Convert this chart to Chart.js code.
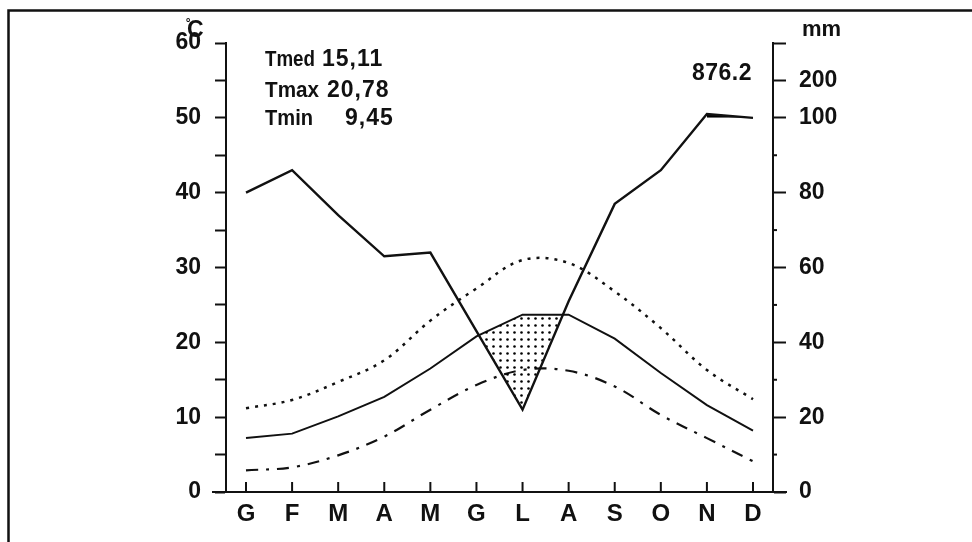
<!DOCTYPE html>
<html>
<head>
<meta charset="utf-8">
<script src="https://cdn.jsdelivr.net/npm/chart.js@4/dist/chart.umd.min.js"></script>
<style>
  html, body { margin: 0; padding: 0; background: #fff; }
  canvas { display: block; }
</style>
</head>
<body>
<canvas id="climate" width="972" height="542"></canvas>
<script>
const months = ["G", "F", "M", "A", "M", "G", "L", "A", "S", "O", "N", "D"];
const tmed = [7.2, 7.8, 10.1, 12.7, 16.5, 20.8, 23.7, 23.7, 20.5, 15.9, 11.6, 8.2];
const tmax = [11.2, 12.3, 14.7, 17.6, 22.9, 27.2, 31.0, 30.6, 26.8, 21.9, 16.3, 12.4];
const tmin = [2.9, 3.3, 4.9, 7.4, 11.0, 14.3, 16.3, 16.2, 14.1, 10.3, 7.2, 4.1];
const rain = [80, 86, 74, 63, 64, 43, 22, 51, 77, 86, 110, 100]; // mm

const tempTicks = [0, 5, 10, 15, 20, 25, 30, 35, 40, 45, 50, 55, 60];
const rainTicks = [0, 20, 40, 60, 80, 100, 200, 300];
const rainMinor = [10, 30, 50, 70, 90];
const rainLabels = ["0", "20", "40", "60", "80", "100", "200", ""];

const summary = [
  ["Tmed", "15,11"],
  ["Tmax", "20,78"],
  ["Tmin", "9,45"],
];
const totalRain = "876.2";

const ink = "#111";
const fam = "'Liberation Sans', Arial, sans-serif";
const font = { family: fam, size: 23, weight: "bold" };

// rain axis: 2 mm = 1 degree up to 100 mm, then 100 mm = 5 degrees
function mmToDeg(mm) {
  return mm <= 100 ? mm / 2 : 50 + (mm - 100) / 20;
}

const pts = (arr) => arr.map((v, i) => ({ x: i, y: v }));

// only the months above 100 mm (and the one after) get the black surplus
const surplus = rain.map((mm, i) =>
  mm > 100 || (i > 0 && rain[i - 1] > 100) ? mmToDeg(mm) : null
);

// dotted pattern for the dry period
const pc = document.createElement("canvas");
pc.width = 7;
pc.height = 7;
const pctx = pc.getContext("2d");
pctx.fillStyle = "#000";
pctx.beginPath();
pctx.arc(3.5, 3.5, 1.3, 0, Math.PI * 2);
pctx.fill();
const dots = pctx.createPattern(pc, "repeat");

const decor = {
  id: "decor",
  afterDraw(chart) {
    const { ctx, chartArea: a, scales } = chart;
    const x = scales.x, y2 = scales.y2;
    ctx.save();
    ctx.strokeStyle = ink;
    ctx.fillStyle = ink;

    // frame
    ctx.lineWidth = 2.5;
    ctx.beginPath();
    ctx.moveTo(8.5, 542);
    ctx.lineTo(8.5, 10.5);
    ctx.lineTo(972, 10.5);
    ctx.stroke();

    // x axis, a bit longer than the plot
    ctx.lineWidth = 2;
    ctx.beginPath();
    ctx.moveTo(a.left - 14, a.bottom);
    ctx.lineTo(a.right + 14, a.bottom);
    ctx.stroke();

    // month ticks pointing up
    months.forEach((m, i) => {
      const px = x.getPixelForValue(i);
      ctx.beginPath();
      ctx.moveTo(px, a.bottom);
      ctx.lineTo(px, a.bottom - 10);
      ctx.stroke();
    });

    // small rain ticks
    rainMinor.forEach((mm) => {
      const py = y2.getPixelForValue(mmToDeg(mm));
      ctx.beginPath();
      ctx.moveTo(a.right, py);
      ctx.lineTo(a.right + 4, py);
      ctx.stroke();
    });

    // texts
    ctx.textBaseline = "middle";
    ctx.textAlign = "left";
    ctx.font = "bold 22px " + fam;
    const rows = [60, 91, 119];
    const labW = [50, 54, 48];
    const valX = [322, 327, 345];
    summary.forEach((r, i) => {
      ctx.fillText(r[0], 265, rows[i], labW[i]);
    });
    ctx.font = "bold 23px " + fam;
    ctx.letterSpacing = "1px";
    summary.forEach((r, i) => {
      ctx.fillText(r[1], valX[i], rows[i]);
    });
    ctx.letterSpacing = "0.5px";
    ctx.fillText(totalRain, 692, 74);
    ctx.letterSpacing = "0px";
    ctx.font = "bold 22px " + fam;
    ctx.fillText("mm", 802, 30, 45);
    ctx.font = "bold 23px " + fam;
    ctx.fillText("C", 187, 31);
    ctx.font = "bold 15px " + fam;
    ctx.fillText("\u02DA", 186, 26);
    ctx.restore();
  },
};

new Chart(document.getElementById("climate"), {
  type: "line",
  data: {
    datasets: [
      {
        label: "Precipitazioni",
        data: pts(rain.map(mmToDeg)),
        borderColor: ink,
        borderWidth: 2.4,
        pointRadius: 0,
        fill: { target: 3, above: "rgba(0,0,0,0)", below: dots },
      },
      {
        label: "Surplus",
        data: pts(surplus),
        borderWidth: 0,
        borderColor: "rgba(0,0,0,0)",
        pointRadius: 0,
        spanGaps: false,
        fill: { value: 50, above: "#000", below: "rgba(0,0,0,0)" },
      },
      {
        label: "Tmax",
        data: pts(tmax),
        borderColor: ink,
        borderWidth: 2.5,
        borderDash: [3, 6],
        tension: 0.35,
        pointRadius: 0,
      },
      {
        label: "Tmed",
        data: pts(tmed),
        borderColor: ink,
        borderWidth: 2,
        pointRadius: 0,
      },
      {
        label: "Tmin",
        data: pts(tmin),
        borderColor: ink,
        borderWidth: 2.2,
        borderDash: [12, 8, 3, 8],
        tension: 0.35,
        pointRadius: 0,
      },
    ],
  },
  options: {
    responsive: false,
    animation: false,
    devicePixelRatio: 1,
    layout: { padding: { top: 43, left: 0, right: 0, bottom: 0 } },
    plugins: { legend: { display: false }, tooltip: { enabled: false } },
    scales: {
      x: {
        type: "linear",
        min: -0.434,
        max: 11.434,
        afterBuildTicks: (s) => { s.ticks = months.map((m, i) => ({ value: i })); },
        afterFit: (s) => { s.height = 50; },
        grid: { display: false },
        border: { display: false },
        ticks: {
          color: ink,
          font: { family: fam, size: 24, weight: "bold" },
          padding: 0,
          maxRotation: 0,
          callback: (v) => months[v],
        },
      },
      y: {
        position: "left",
        min: 0,
        max: 60,
        afterBuildTicks: (s) => { s.ticks = tempTicks.map((v) => ({ value: v })); },
        afterFit: (s) => { s.width = 226; },
        grid: { drawOnChartArea: false, tickLength: 11, tickColor: ink, tickWidth: 2 },
        border: { display: true, color: ink, width: 2 },
        ticks: {
          color: ink,
          font: font,
          padding: 14,
          callback: (v) => (v % 10 === 0 ? String(v) : ""),
        },
      },
      y2: {
        position: "right",
        min: 0,
        max: 60,
        afterBuildTicks: (s) => { s.ticks = rainTicks.map((mm) => ({ value: mmToDeg(mm) })); },
        afterFit: (s) => { s.width = 972 - 773; },
        grid: { drawOnChartArea: false, tickLength: 13, tickColor: ink, tickWidth: 2 },
        border: { display: true, color: ink, width: 2 },
        ticks: {
          color: ink,
          font: font,
          padding: 13,
          callback: (v, i) => rainLabels[i],
        },
      },
    },
  },
  plugins: [decor],
});
</script>
</body>
</html>
